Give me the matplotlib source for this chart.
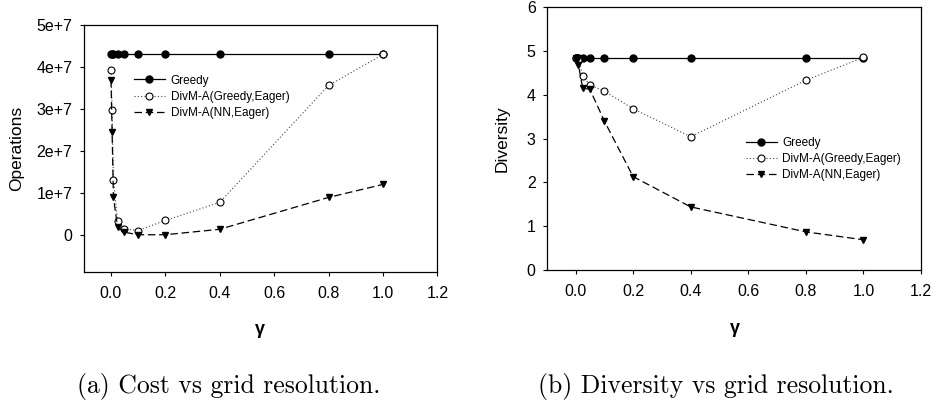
import matplotlib
matplotlib.use("Agg")
import matplotlib.pyplot as plt
from matplotlib.ticker import FixedLocator, FuncFormatter

# grid resolution values
gamma = [0.001, 0.005, 0.01, 0.025, 0.05, 0.1, 0.2, 0.4, 0.8, 1.0]

# (a) number of operations
ops_greedy = [4.30e7] * 10
ops_divm_greedy = [3.92e7, 2.97e7, 1.31e7, 0.33e7, 0.14e7, 0.10e7, 0.34e7, 0.77e7, 3.56e7, 4.30e7]
ops_divm_nn = [3.70e7, 2.45e7, 0.89e7, 0.19e7, 0.06e7, 0.0, 0.0, 0.13e7, 0.89e7, 1.20e7]

# (b) diversity of the result
div_greedy = [4.84] * 10
div_divm_greedy = [4.84, 4.83, 4.80, 4.43, 4.22, 4.08, 3.68, 3.04, 4.33, 4.85]
div_divm_nn = [4.83, 4.80, 4.68, 4.15, 4.12, 3.40, 2.13, 1.44, 0.87, 0.69]

labels = ["Greedy", "DivM-A(Greedy,Eager)", "DivM-A(NN,Eager)"]
xticks = [0.0, 0.2, 0.4, 0.6, 0.8, 1.0, 1.2]

sans = ["Liberation Sans", "DejaVu Sans"]
plt.rcParams["font.family"] = sans

fig = plt.figure(figsize=(9.33, 4.05), dpi=100)
ax1 = fig.add_axes([0.0895, 0.3272, 0.3794, 0.611])
ax2 = fig.add_axes([0.586, 0.3333, 0.4012, 0.6494])


def draw(ax, g, dg, dn):
    ax.plot(gamma, g, color="black", lw=0.9, ls="-", marker="o", ms=5,
            mfc="black", mec="black", label=labels[0])
    ax.plot(gamma, dg, color="#444444", lw=0.8, ls=(0, (1, 2)), marker="o", ms=5,
            mfc="white", mec="black", mew=0.8, label=labels[1])
    ax.plot(gamma, dn, color="black", lw=0.9, ls=(0, (6, 3)), marker="v", ms=5,
            mfc="black", mec="black", label=labels[2])
    ax.set_xlim(-0.1, 1.2)
    ax.xaxis.set_major_locator(FixedLocator(xticks))
    ax.xaxis.set_major_formatter(FuncFormatter(lambda v, p: f"{v:.1f}"))
    ax.tick_params(direction="out", length=3, width=0.8, labelsize=11.5,
                   top=False, right=False)
    ax.tick_params(axis="x", pad=7)
    ax.tick_params(axis="y", pad=5)
    for s in ax.spines.values():
        s.set_linewidth(0.9)
    ax.set_xlabel("γ", fontsize=13, fontweight="bold")


draw(ax1, ops_greedy, ops_divm_greedy, ops_divm_nn)
ax1.set_ylim(-0.9e7, 5e7)
ax1.yaxis.set_major_locator(FixedLocator([0, 1e7, 2e7, 3e7, 4e7, 5e7]))
ax1.yaxis.set_major_formatter(FuncFormatter(lambda v, p: "0" if v == 0 else f"{int(round(v / 1e7))}e+7"))
ax1.set_ylabel("Operations", fontsize=12.5)
ax1.yaxis.set_label_coords(-0.168, 0.5)
ax1.xaxis.set_label_coords(0.4986, -0.196)
ax1.legend(loc="upper left", bbox_to_anchor=(0.143, 0.80), frameon=False,
           fontsize=8.5, handlelength=2.6, handletextpad=0.5, labelspacing=0.35,
           borderpad=0, borderaxespad=0, numpoints=1)

draw(ax2, div_greedy, div_divm_greedy, div_divm_nn)
ax2.set_ylim(0, 6)
ax2.yaxis.set_major_locator(FixedLocator([0, 1, 2, 3, 4, 5, 6]))
ax2.set_ylabel("Diversity", fontsize=12.5)
ax2.yaxis.set_label_coords(-0.098, 0.5)
ax2.xaxis.set_label_coords(0.503, -0.19)
ax2.legend(loc="upper left", bbox_to_anchor=(0.532, 0.505), frameon=False,
           fontsize=8.5, handlelength=2.6, handletextpad=0.5, labelspacing=0.35,
           borderpad=0, borderaxespad=0, numpoints=1)

fig.text(229 / 933, 1 - 387 / 405, "(a) Cost vs grid resolution.", family="cmr10",
         fontsize=18.5, ha="center", va="center")
fig.text(715.5 / 933, 1 - 387 / 405, "(b) Diversity vs grid resolution.", family="cmr10",
         fontsize=18.5, ha="center", va="center")

fig.savefig("out.png", dpi=100)
